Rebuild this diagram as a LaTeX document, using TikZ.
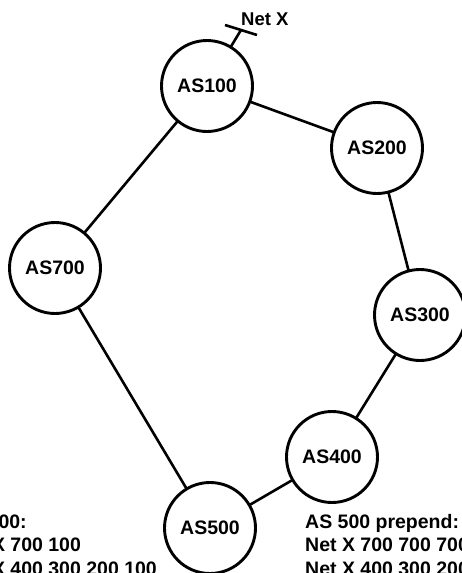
\documentclass[tikz,border=0pt]{standalone}
\usepackage{fontspec}
\setmainfont{Liberation Sans}
\begin{document}
\begin{tikzpicture}[x=1pt,y=-1pt,
  asnode/.style={circle,draw=black,line width=2.9pt,fill=white,inner sep=0pt,minimum size=91pt,font=\fontsize{19.5}{22}\selectfont\bfseries},
  link/.style={line width=2.6pt,black},
  txt/.style={anchor=base west,inner sep=0pt,font=\fontsize{19.5}{22}\selectfont\bfseries}]
\useasboundingbox (0,0) rectangle (462,573);
\clip (0,0) rectangle (462,573);
\fill[white] (0,0) rectangle (462,573);
% links (drawn first, nodes on top)
\coordinate (c100) at (207,86);
\coordinate (c200) at (377,148);
\coordinate (c700) at (55,268);
\coordinate (c300) at (420,315);
\coordinate (c400) at (332,457);
\coordinate (c500) at (210,528);
\draw[link] (c100) -- (c200);
\draw[link] (c200) -- (c300);
\draw[link] (c300) -- (c400);
\draw[link] (c400) -- (c500);
\draw[link] (c500) -- (c700);
\draw[link] (c700) -- (c100);
\coordinate (netx) at (241,30);
\coordinate (barA) at (225,25);
\coordinate (barB) at (257,35);
\draw[link] (c100) -- (netx);
\draw[link] (barA) -- (barB);
% AS nodes
\node[asnode] (as100) at (c100) {AS100};
\node[asnode] (as200) at (c200) {AS200};
\node[asnode] (as700) at (c700) {AS700};
\node[asnode] (as300) at (c300) {AS300};
\node[asnode] (as400) at (c400) {AS400};
\node[asnode] (as500) at (c500) {AS500};
% labels
\node[txt,font=\fontsize{18.5}{21}\selectfont\bfseries] (netxlabel) at (241,25) {Net X};
\node[txt] (l1) at (-45,528) {AS 500:};
\node[txt] (l2) at (-45,551.5) {Net X 700 100};
\node[txt] (l3) at (-45,575) {Net X 400 300 200 100};
\node[txt] (r1) at (305,528) {AS 500 prepend:};
\node[txt] (r2) at (305,551.5) {Net X 700 700 700 100};
\node[txt] (r3) at (305,575) {Net X 400 300 200 100};
\end{tikzpicture}
\end{document}
